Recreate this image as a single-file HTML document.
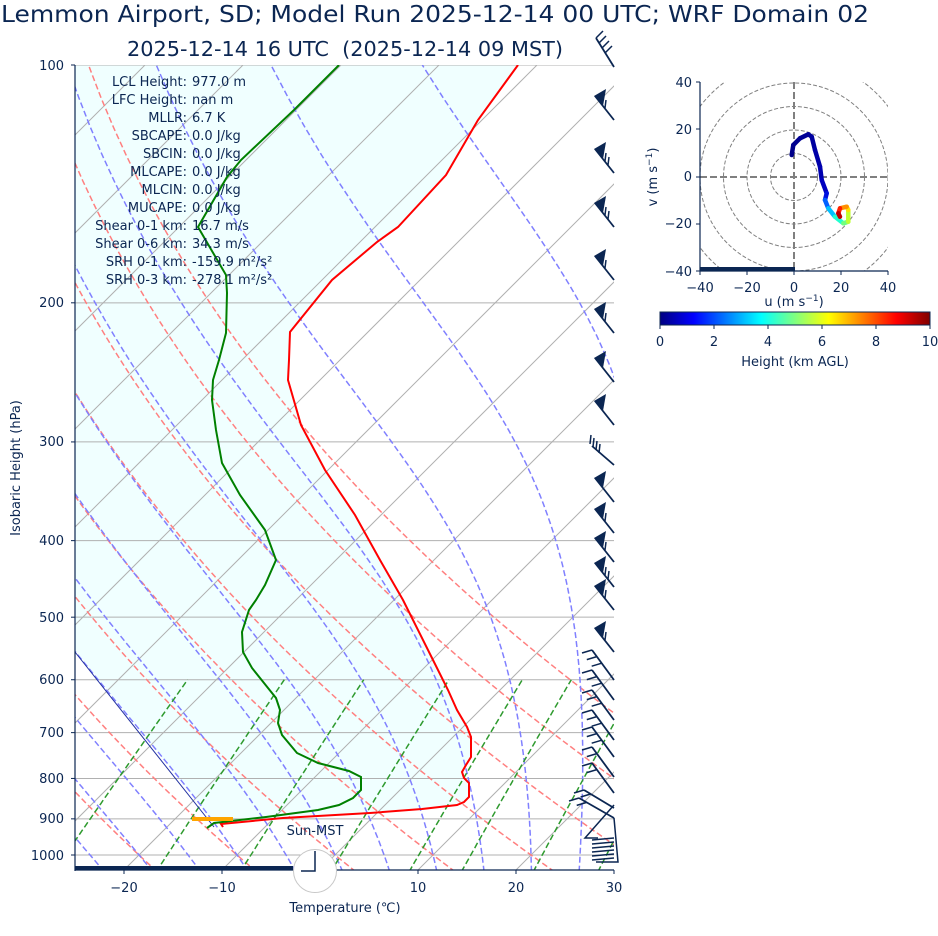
<!DOCTYPE html>
<html><head><meta charset="utf-8"><style>
html,body{margin:0;padding:0;background:#fff;}
svg{display:block;font-family:"DejaVu Sans","Liberation Sans",sans-serif;}
</style></head><body>
<svg id="s" width="938" height="936" viewBox="0 0 938 936" xmlns="http://www.w3.org/2000/svg">
<defs>
<clipPath id="cp"><rect x="75" y="65" width="539" height="805"/></clipPath>
<clipPath id="hc"><rect x="700" y="82" width="188" height="189"/></clipPath>
<linearGradient id="jet" x1="0" x2="1" y1="0" y2="0">
<stop offset="0" stop-color="#000080"/><stop offset="0.125" stop-color="#0000ff"/><stop offset="0.375" stop-color="#00ffff"/><stop offset="0.5" stop-color="#80ff80"/><stop offset="0.625" stop-color="#ffff00"/><stop offset="0.875" stop-color="#ff0000"/><stop offset="1" stop-color="#800000"/>
</linearGradient>
</defs>
<g id="main" clip-path="url(#cp)"></g>
<g id="over"></g>
<g fill="#0b2652">
<text x="435" y="22" font-size="23" text-anchor="middle" textLength="868" lengthAdjust="spacingAndGlyphs">Lemmon Airport, SD; Model Run 2025-12-14 00 UTC; WRF Domain 02</text>
<text x="345" y="56" font-size="20" text-anchor="middle" textLength="436" lengthAdjust="spacingAndGlyphs" xml:space="preserve">2025-12-14 16 UTC  (2025-12-14 09 MST)</text>
<g font-size="13" text-anchor="end">
<text x="64" y="70">100</text><text x="64" y="307">200</text><text x="64" y="446">300</text><text x="64" y="545">400</text><text x="64" y="622">500</text><text x="64" y="684">600</text><text x="64" y="737">700</text><text x="64" y="783">800</text><text x="64" y="823">900</text><text x="64" y="860">1000</text>
</g>
<g font-size="13" text-anchor="middle">
<text x="124" y="892">−20</text><text x="222" y="892">−10</text><text x="418" y="892">10</text><text x="516" y="892">20</text><text x="614" y="892">30</text>
</g>
<text x="345" y="912" font-size="13" text-anchor="middle">Temperature (℃)</text>
<text transform="translate(20,468) rotate(-90)" font-size="13" text-anchor="middle">Isobaric Height (hPa)</text>
<text x="315" y="835" font-size="13" text-anchor="middle">Sun-MST</text>
<g font-size="13">
<g text-anchor="end">
<text x="187" y="86">LCL Height:</text><text x="187" y="104">LFC Height:</text><text x="187" y="122">MLLR:</text><text x="187" y="140">SBCAPE:</text><text x="187" y="158">SBCIN:</text><text x="187" y="176">MLCAPE:</text><text x="187" y="194">MLCIN:</text><text x="187" y="212">MUCAPE:</text><text x="187" y="230">Shear 0-1 km:</text><text x="187" y="248">Shear 0-6 km:</text><text x="187" y="266">SRH 0-1 km:</text><text x="187" y="284">SRH 0-3 km:</text>
</g>
<g>
<text x="192" y="86">977.0 m</text><text x="192" y="104">nan m</text><text x="192" y="122">6.7 K</text><text x="192" y="140">0.0 J/kg</text><text x="192" y="158">0.0 J/kg</text><text x="192" y="176">0.0 J/kg</text><text x="192" y="194">0.0 J/kg</text><text x="192" y="212">0.0 J/kg</text><text x="192" y="230">16.7 m/s</text><text x="192" y="248">34.3 m/s</text><text x="192" y="266">-159.9 m²/s²</text><text x="192" y="284">-278.1 m²/s²</text>
</g>
</g>
<g font-size="13" text-anchor="end">
<text x="692" y="87">40</text><text x="692" y="134">20</text><text x="692" y="181">0</text><text x="692" y="228">−20</text><text x="692" y="276">−40</text>
</g>
<g font-size="13" text-anchor="middle">
<text x="700" y="292">−40</text><text x="747" y="292">−20</text><text x="794" y="292">0</text><text x="841" y="292">20</text><text x="888" y="292">40</text>
<text x="794" y="306">u (m s<tspan dy="-5" font-size="9">−1</tspan><tspan dy="5">)</tspan></text>
<text x="660" y="346">0</text><text x="714" y="346">2</text><text x="768" y="346">4</text><text x="822" y="346">6</text><text x="876" y="346">8</text><text x="930" y="346">10</text>
<text x="795" y="366">Height (km AGL)</text>
</g>
<text transform="translate(657,177) rotate(-90)" font-size="13" text-anchor="middle">v (m s<tspan dy="-5" font-size="9">−1</tspan><tspan dy="5">)</tspan></text>
</g>
<rect x="660" y="312" width="270" height="13" fill="url(#jet)" stroke="#0b2652" stroke-width="1"/>
<g id="hodo"></g>
</svg>
<script>
var NS="http://www.w3.org/2000/svg";
function el(p,t,a){var e=document.createElementNS(NS,t);for(var k in a)e.setAttribute(k,a[k]);p.appendChild(e);return e;}
var main=document.getElementById('main'),over=document.getElementById('over'),hodo=document.getElementById('hodo');
function Y(p){return 65+790*Math.log10(p/100);}
function X(T,p){var y=Y(p);return 75+(T+25)*9.8+(870-y);}
function pl(pts,a,par){var d=pts.map(function(q,i){return (i?'L':'M')+q[0].toFixed(1)+','+q[1].toFixed(1);}).join('');a.d=d;a.fill=a.fill||'none';return el(par||main,'path',a);}
var red=[[518,65],[478,120],[446,175],[398,227],[377,242],[332,280],[290,332],[289,360],[288,380],[301,425],[325,470],[355,515],[380,560],[403,600],[433,660],[448,690],[457,710],[467,727],[471,737],[471,757],[466,765],[462,772],[464,778],[469,783],[469,797],[464,802],[457,805],[422,809],[370,813],[283,818],[221,824],[223,827]];
var fillp=[[214,822],[75,650],[-400,65]].concat(red.slice(0,30));
fillp.push([221,822]);
pl(fillp,{fill:'#f0ffff',stroke:'none'});
for(var p=100;p<=1000;p+=100){var y=Y(p);el(main,'line',{x1:75,x2:614,y1:y,y2:y,stroke:'#b0b0b0','stroke-width':1});}
for(var T=-160;T<=40;T+=10){pl([[X(T,1050),Y(1050)],[X(T,100),Y(100)]],{stroke:'#b0b0b0','stroke-width':1});}
// dry adiabats
for(var t0=-50;t0<=50;t0+=10){var th=t0+273.15,pts=[];for(var p=1050;p>=95;p-=10){pts.push([X(th*Math.pow(p/1000,0.2857)-273.15,p),Y(p)]);}pl(pts,{stroke:'#ff8080','stroke-width':1.5,'stroke-dasharray':'6,3'});}
// moist adiabats
function es(Tc){return 6.112*Math.exp(17.67*Tc/(Tc+243.5));}
function dTdp(Tk,p){var e=es(Tk-273.15),rs=0.622*e/(p-e);return (287*Tk+2.501e6*rs)/(1005+2.501e6*2.501e6*rs*0.622/(287*Tk*Tk))/p;}
for(var t0=-25;t0<=30;t0+=5){
  var Tk=t0+273.15,p=1000;for(var i=0;i<25;i++){Tk+=dTdp(Tk,p)*2;p+=2;}
  var pts=[[X(Tk-273.15,p),Y(p)]];
  while(p>100){Tk+=dTdp(Tk,p)*(-2);p-=2;if(p%10==0)pts.push([X(Tk-273.15,p),Y(p)]);}
  pl(pts,{stroke:'#8080ff','stroke-width':1.5,'stroke-dasharray':'6,3'});}
[0.0004,0.001,0.002,0.004,0.007,0.01,0.016,0.024,0.032].forEach(function(w){var pts=[];for(var p=1050;p>=600;p-=10){var e=p*w/(0.622+w),l=Math.log(e/6.112),Td=243.5*l/(17.67-l);pts.push([X(Td,p),Y(p)]);}pl(pts,{stroke:'#2e9a2e','stroke-width':1.5,'stroke-dasharray':'6,3'});});
pl([[214,827],[75,652]],{stroke:'#2030a0','stroke-width':1});
pl(red,{stroke:'#ff0000','stroke-width':2});
var grn=[[339,65],[294,110],[241,160],[227,177],[198,227],[226,275],[227,293],[226,333],[219,360],[213,380],[212,400],[216,430],[222,463],[240,495],[265,530],[276,560],[265,585],[256,600],[249,610],[242,632],[243,652],[252,668],[264,683],[276,698],[280,710],[278,723],[282,735],[297,753],[318,763],[349,771],[361,777],[361,790],[353,798],[339,805],[318,810],[266,817],[214,823],[207,828]];
pl(grn,{stroke:'#008000','stroke-width':2});
el(main,'rect',{x:192,y:817,width:41,height:4,fill:'#ffa500'});
el(main,'rect',{x:75,y:866,width:218,height:5,fill:'#0b2652'});
el(over,'line',{x1:75,x2:75,y1:65,y2:871,stroke:'#0b2652','stroke-width':1.2});
el(over,'line',{x1:75,x2:614,y1:870,y2:870,stroke:'#0b2652','stroke-width':1.2});
for(var p=100;p<=1000;p+=100){var y=Y(p);el(over,'line',{x1:71,x2:75,y1:y,y2:y,stroke:'#0b2652'});}
[124,222,320,418,516,614].forEach(function(x){el(over,'line',{x1:x,x2:x,y1:870,y2:874,stroke:'#0b2652'});});
el(over,'circle',{cx:315,cy:871,r:21.5,fill:'#fff',stroke:'#c8c8c8','stroke-width':1});
pl([[315,851],[315,871],[301,871]],{stroke:'#0b2652','stroke-width':1.5},over);
var C='#0b2652';
function pen(xe,ye,nf){pl([[xe,ye],[xe-19,ye-24]],{stroke:C,'stroke-width':1.8},over);
el(over,'polygon',{points:[[xe-20,ye-24],[xe-8,ye-31],[xe-11,ye-14]].join(' '),fill:C});
for(var i=0;i<nf;i++){var bx=xe-9+i*3,by=ye-12+i*4;pl([[bx,by],[bx+1,by-8]],{stroke:C,'stroke-width':1.5},over);}}
function fea(xe,ye,nf,dx,dy){dx=dx||-22;dy=dy||-30;pl([[xe,ye],[xe+dx,ye+dy]],{stroke:C,'stroke-width':1.8},over);
for(var i=0;i<nf;i++){var f=1-i*0.22,bx=xe+dx*f,by=ye+dy*f;pl([[bx,by],[bx-10,by+3]],{stroke:C,'stroke-width':1.5},over);}}
pl([[614,67],[596,38]],{stroke:C,'stroke-width':1.8},over);
for(var i=0;i<4;i++){var bx=596+i*3,by=38+i*5;pl([[bx,by],[bx+7,by-7]],{stroke:C,'stroke-width':1.5},over);}
[[120,1],[173,2],[227,2],[280,1],[333,1],[382,0],[425,0],[502,0],[533,1],[562,1],[587,2],[610,1],[652,1]].forEach(function(b){pen(614,b[0],b[1]);});
pl([[614,465],[592,446]],{stroke:C,'stroke-width':1.8},over);
for(var i=0;i<4;i++){var bx=590+i*3,by=444+i*3;pl([[bx,by],[bx+1,by-9]],{stroke:C,'stroke-width':1.5},over);}
[[680,3],[700,3],[720,3],[740,3],[757,3],[777,2],[793,2]].forEach(function(b){fea(614,b[0],b[1]);});
fea(614,808,2,-30,-18);fea(614,818,2,-35,-20);
pl([[614,805],[585,838],[598,838]],{stroke:C,'stroke-width':1.5},over);
for(var i=0;i<6;i++){var y=840+i*4;pl([[592,y],[614,y-2]],{stroke:C,'stroke-width':1.5},over);}
pl([[614,818],[618,862],[596,862]],{stroke:C,'stroke-width':1.5},over);
var hg=el(hodo,'g',{'clip-path':'url(#hc)'});
[10,20,30,40,50].forEach(function(r){el(hg,'circle',{cx:794,cy:177,r:r*2.35,fill:'none',stroke:'#808080','stroke-width':1,'stroke-dasharray':'4,2'});});
el(hg,'line',{x1:700,x2:888,y1:177,y2:177,stroke:'#808080','stroke-width':2,'stroke-dasharray':'7,3'});
el(hg,'line',{x1:794,x2:794,y1:82,y2:271,stroke:'#808080','stroke-width':2,'stroke-dasharray':'7,3'});
el(hg,'rect',{x:700,y:267,width:95,height:4,fill:'#0b2652'});
var hp=[[791.7,155,'#00008a'],[793.3,145,'#00008a'],[800,138.3,'#00008f'],[808.3,134.3,'#000095'],[811.7,136.7,'#00009a'],[815,150,'#0000a0'],[820,166.7,'#0000a8'],[821.7,180,'#0000b0'],[826.7,193.3,'#0000c0'],[825,200,'#0010e0'],[828.3,208.3,'#0060ff'],[835,216.7,'#00c0ff'],[843.3,223.3,'#20ffd0'],[848.3,221.7,'#70ff80'],[848.3,210,'#c0ff30'],[846.7,206.7,'#ffe000'],[840,208.3,'#ff9000'],[838.3,213.3,'#ff2000'],[840,216.7,'#c00000']];
for(var i=1;i<hp.length;i++){el(hg,'line',{x1:hp[i-1][0],y1:hp[i-1][1],x2:hp[i][0],y2:hp[i][1],stroke:hp[i][2],'stroke-width':4.5,'stroke-linecap':'round'});}
el(hodo,'line',{x1:700,x2:700,y1:82,y2:271,stroke:'#0b2652','stroke-width':1.2});
el(hodo,'line',{x1:700,x2:888,y1:271,y2:271,stroke:'#0b2652','stroke-width':1.2});
[82,129,177,224,271].forEach(function(y){el(hodo,'line',{x1:696,x2:700,y1:y,y2:y,stroke:'#0b2652'});});
[700,747,794,841,888].forEach(function(x){el(hodo,'line',{x1:x,x2:x,y1:271,y2:275,stroke:'#0b2652'});});
[660,714,768,822,876,930].forEach(function(x){el(hodo,'line',{x1:x,x2:x,y1:325,y2:329,stroke:'#0b2652'});});
</script>
</body></html>
